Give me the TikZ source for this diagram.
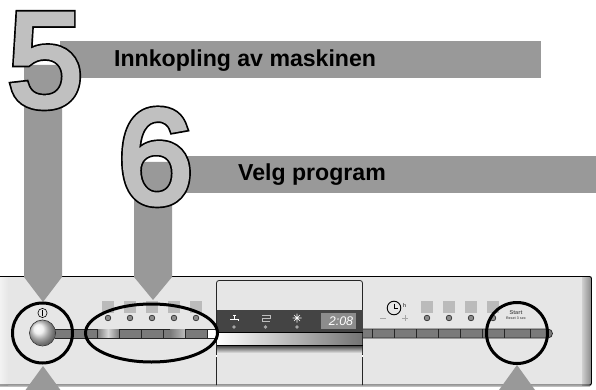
\documentclass[tikz,border=0pt]{standalone}
\usepackage{fontspec}
\setmainfont{Liberation Sans}
\definecolor{band}{HTML}{999999}
\definecolor{digitgray}{HTML}{C0C0C0}
\definecolor{panelgray}{HTML}{E6E6E6}
\definecolor{sq}{HTML}{BBBBBB}
\definecolor{bar}{HTML}{7A7A7A}
\definecolor{dark}{HTML}{444444}
\newcommand{\strokeblack}[1]{\special{pdf:code 0 G 8 w 0 j 4 M 2 Tr}#1\special{pdf:code 0 Tr 1 w}}
\newcommand{\strokegray}[1]{\special{pdf:code 0.753 G 4.6 w 0 j 4 M 2 Tr}#1\special{pdf:code 0 Tr 1 w}}
\tikzset{
 bigdigit/.style={inner sep=0pt,anchor=base west,font=\fontsize{134}{134}\selectfont},
 title/.style={inner sep=0pt,anchor=base west,font=\fontsize{23.1}{26}\selectfont\bfseries,text=black},
 flat/.style={fill=band,draw=none},
 sqr/.style={fill=sq,draw=none},
 led/.style={circle,fill=gray!90,draw=black!80,line width=.7pt,minimum size=5.6pt,inner sep=0pt},
 iled/.style={circle,fill=black!35,draw=none,minimum size=3.8pt,inner sep=0pt},
 ring/.style={draw=black,line width=3pt,fill=none},
 seg/.style={draw=black!85,line width=.7pt},
 small/.style={inner sep=0pt,text=black!65}
}
\begin{document}
\begin{tikzpicture}[x=1pt,y=-1pt]
\useasboundingbox (0,0) rectangle (596,390);
% panel
\fill[panelgray] (0,276) rectangle (590,385);
\shade[left color=white!95!black,right color=panelgray,draw=none] (0,277) rectangle (8,385);
\shade[left color=panelgray!90!black,right color=black!45,draw=none] (582,277) rectangle (591,385);
\draw[black,line width=.9pt,rounded corners=2pt] (0,276.5) -- (591.5,276.5) -- (591.5,385) -- (0,385);
\fill[black!25] (0,385.5) rectangle (590,386.5);
% bars
\fill[bar] (55,329) rectangle (216,338);
\draw[seg] (55,329) -- (216,329) (55,338) -- (216,338);
\shade[left color=bar,right color=white!70!bar] (97,329.5) -- (108,329.5) -- (108,337.5) -- (97,337.5) -- cycle;
\shade[left color=white!70!bar,right color=bar] (108,329.5) -- (119,329.5) -- (119,337.5) -- (108,337.5) -- cycle;
\shade[left color=bar,right color=white!50!bar] (170,329.5) rectangle (185,337.5);
\fill[white] (207.5,329.5) rectangle (216,337.5);
\foreach \x in {97,119,141,163,185,207}{\draw[seg] (\x,329) -- (\x,338);}
\fill[bar] (362,329) -- (548,329) arc[start angle=-90,end angle=90,radius=4.5] -- (362,338) -- cycle;
\draw[seg] (362,329) -- (548,329) arc[start angle=-90,end angle=90,radius=4.5] -- (362,338);
\foreach \x in {372,394,416,438,460,482,504,530}{\draw[seg] (\x,329) -- (\x,338);}
% squares & leds
\foreach \x in {102,124,146,168,190}{\fill[sqr] (\x,301) rectangle +(12,12);}
\foreach \x/\n in {108/a,130/b,152/c,174/d,196/e}{\node[led] (l\n) at (\x,318) {};}
\foreach \x in {421,443,465,487}{\fill[sqr] (\x,301) rectangle +(12,12);}
\foreach \x/\n in {427/f,449/g,471/h,493/i}{\node[led] (l\n) at (\x,318) {};}
% central panel
\draw[black!85,line width=.8pt,rounded corners=2.5pt] (216.5,385) -- (216.5,280.5) -- (362.5,280.5) -- (362.5,385);
\fill[dark] (216.5,310) rectangle (362.5,332);
\fill[black!45] (321,313) rectangle (356,329);
\node[inner sep=0pt,text=white,font=\fontsize{12.5}{13}\selectfont\itshape] (disp) at (341,321) {2:08};
\shade[left color=white,right color=black!55] (217,333.5) rectangle (362,345);
\draw[black,line width=1pt] (216.5,332.5) -- (362.5,332.5) (216.5,345.5) -- (362.5,345.5);
\shade[top color=black!70,bottom color=panelgray] (217,346) rectangle (362,353);
\draw[white,line width=.6pt] (216.5,355) -- +(0,2) (362.5,355) -- +(0,2);
% icons
\draw[white,line width=.9pt] (230,319) -- (239,319) (234.5,315) -- (234.5,319) (233,315) -- (236,315) (238.5,319) -- (238.5,321);
\draw[black!25,line width=.6pt] (262,315.5) -- (270,315.5) -- (270,318.5) -- (262,318.5) -- (262,321) -- (270,321);
\draw[white,line width=.6pt] (297,313.5) -- (297,322.5) (292.5,318) -- (301.5,318) (294,315) -- (300,321) (300,315) -- (294,321);
\node[iled] (ia) at (234,327) {};
\node[iled] (ib) at (265.5,327) {};
\node[iled] (ic) at (297,327) {};
% clock
\draw[black,line width=.9pt] (394,308) circle[radius=6.8];
\draw[black,line width=.9pt] (394,303.5) -- (394,308.5) -- (398,308.5);
\node[small,font=\fontsize{5.5}{6}\selectfont\bfseries] (hh) at (404.5,306) {h};
\draw[black!35,line width=1pt] (380,318) -- (386,318) (402,318) -- (408,318) (405,315) -- (405,321);
% start
\node[small,font=\fontsize{5.6}{6}\selectfont\bfseries] (st) at (516,313) {Start};
\node[small,font=\fontsize{3.6}{4}\selectfont\bfseries] (rs) at (516,318.3) {Reset 3 sec};
% knob
\shade[ball color=black!8] (42.5,333) circle[radius=12.7];
\draw[black!85,line width=.6pt] (42.5,333) circle[radius=13];
\draw[black,line width=.6pt] (42.5,313) circle[radius=4.6] (42.5,310) -- (42.5,316);
% arrows and bands
\fill[flat] (60,41) rectangle (541,78);
\fill[flat] (24,65) -- (62,65) -- (62,277) -- (43,302) -- (24,277) -- cycle;
\fill[flat] (172,156) rectangle (596,193);
\fill[flat] (134,162) -- (172,162) -- (172,277) -- (153,300) -- (134,277) -- cycle;
\fill[flat] (43,366) -- (60.5,390) -- (25.5,390) -- cycle;
\fill[flat] (517,365) -- (535,390) -- (499,390) -- cycle;
% rings
\draw[ring] (42.5,333) circle[radius=30];
\draw[ring] (151.5,333) ellipse[x radius=66,y radius=29];
\draw[ring] (517,333) circle[radius=30.5];
% digits and titles
\node[bigdigit,text=black] (fiveb) at (8,106) {\strokeblack{5}};
\node[bigdigit,text=digitgray] (five) at (8,106) {\strokegray{5}};
\node[bigdigit,text=black] (sixb) at (118,203) {\strokeblack{6}};
\node[bigdigit,text=digitgray] (six) at (118,203) {\strokegray{6}};
\node[title] (t1) at (114,67) {Innkopling av maskinen};
\node[title] (t2) at (238,180) {Velg program};
\end{tikzpicture}
\end{document}
